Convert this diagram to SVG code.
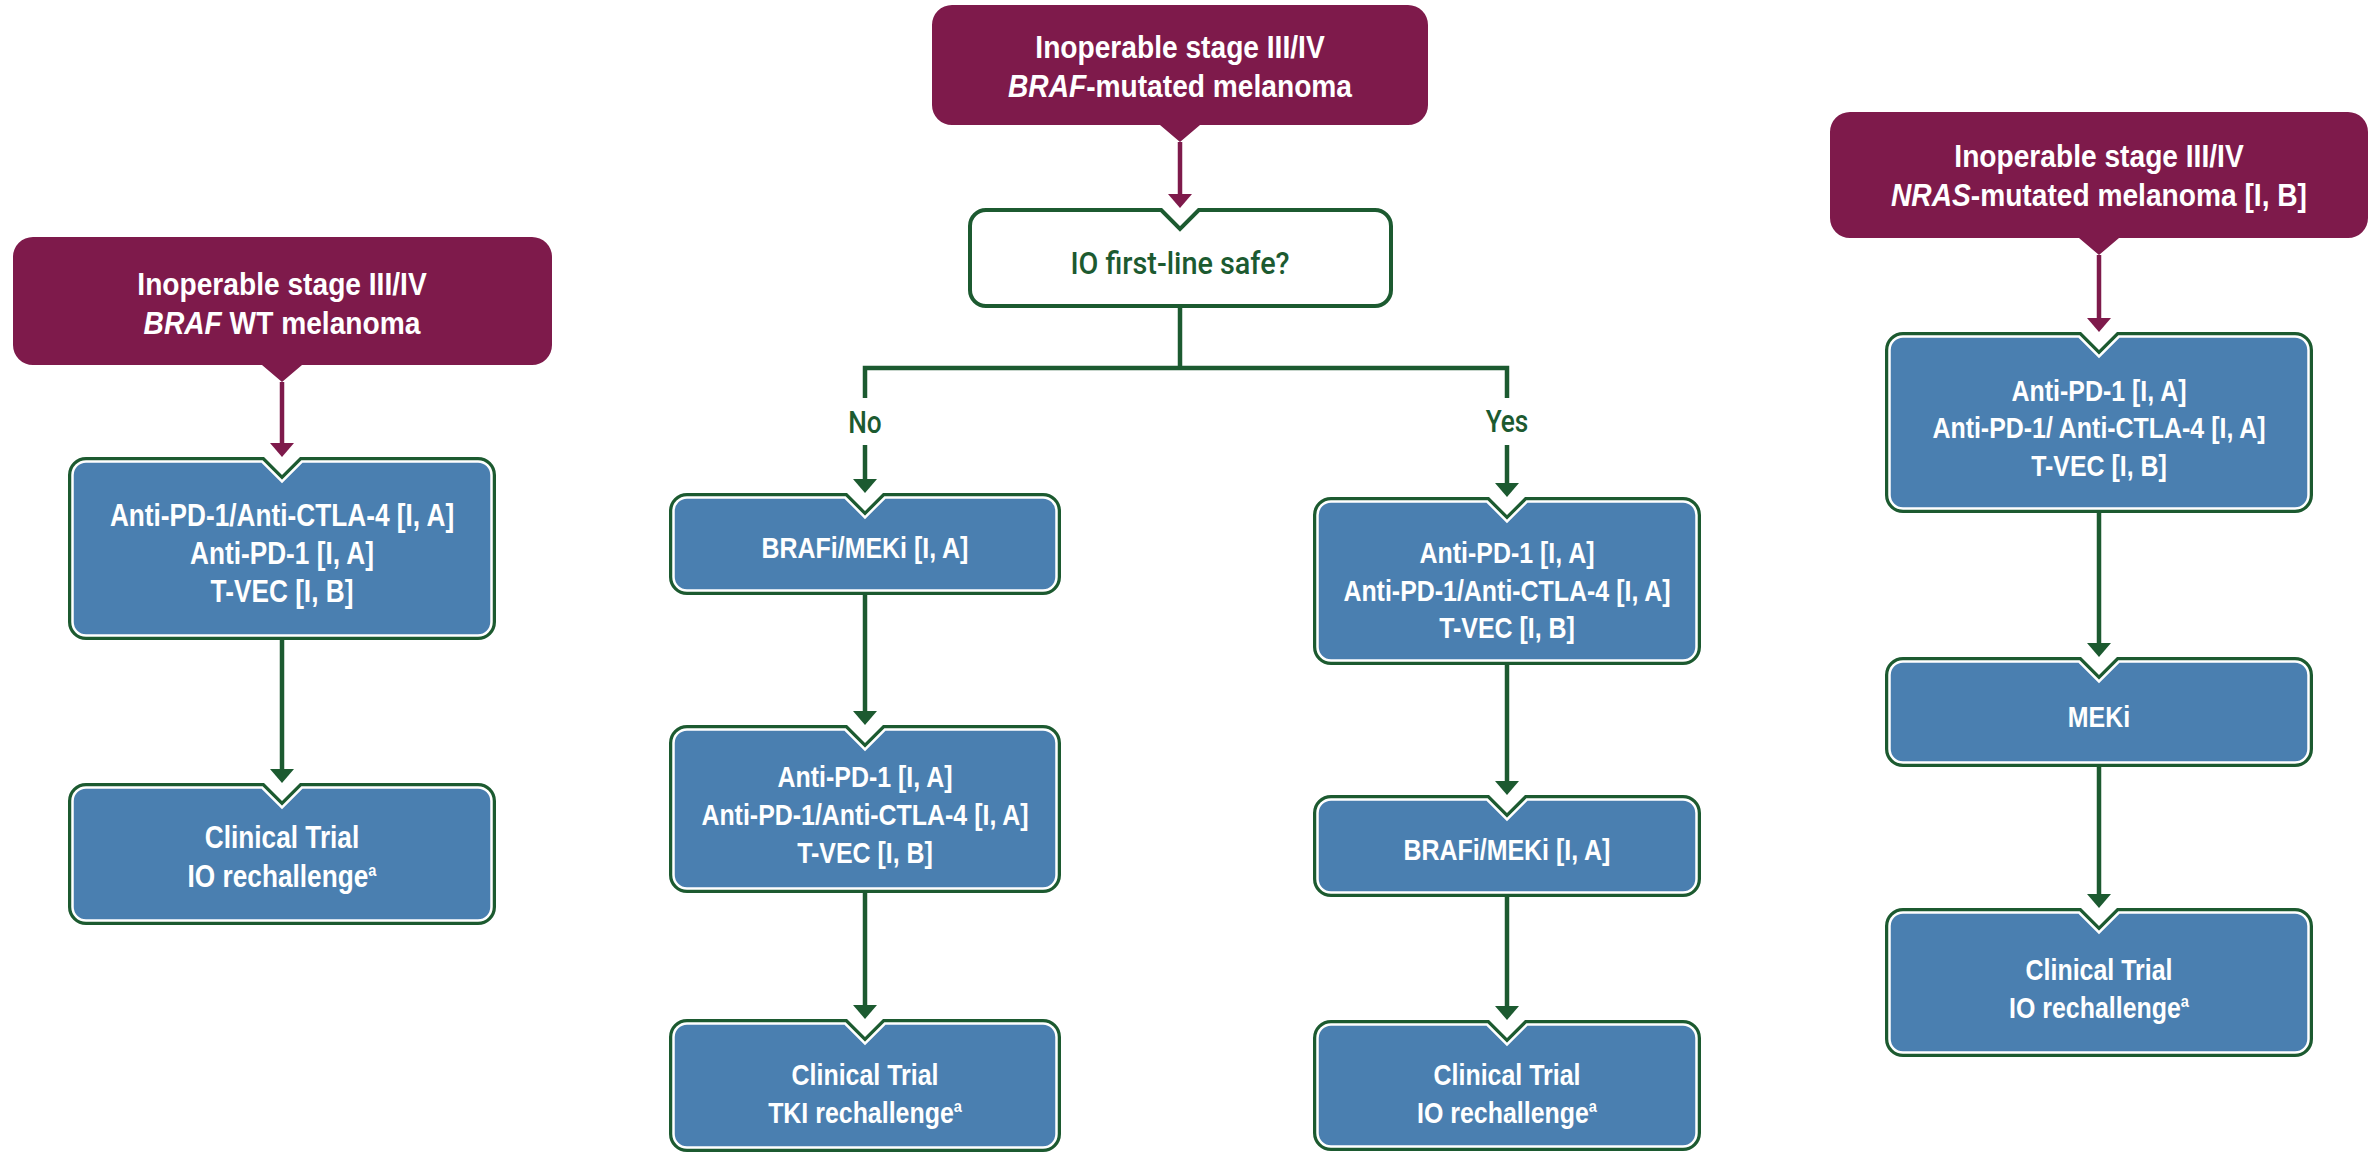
<svg xmlns="http://www.w3.org/2000/svg" width="2369" height="1156" viewBox="0 0 2369 1156">
<defs>
<style>
.bo{fill:#1c5a30}
.bi{fill:#4a7fb0;stroke:#ffffff;stroke-width:2.5}
.mr{fill:#7e1a4b}
.io{fill:#ffffff;stroke:#1c5a30;stroke-width:4}
.t{font-family:"Liberation Sans",Arial,sans-serif;font-weight:700;fill:#ffffff;text-anchor:middle}
.tb{font-size:29px}
.tl{font-size:30.5px}
.tm{font-size:32px}
.g{font-family:Roboto,"Liberation Sans",Arial,sans-serif;font-weight:500;fill:#1c5a30;text-anchor:middle;font-size:32px}
.cg{fill:none;stroke:#1c5a30;stroke-width:4.5}
.cm{fill:none;stroke:#7e1a4b;stroke-width:4.5}
.sup{font-size:17px}
</style>
<marker id="ag" markerUnits="userSpaceOnUse" viewBox="0 0 14 24" markerWidth="14" markerHeight="24" refX="4" refY="12" orient="auto"><path d="M0,0 L14,12 L0,24 Z" fill="#1c5a30"/></marker>
<marker id="am" markerUnits="userSpaceOnUse" viewBox="0 0 14 24" markerWidth="14" markerHeight="24" refX="4" refY="12" orient="auto"><path d="M0,0 L14,12 L0,24 Z" fill="#7e1a4b"/></marker>
</defs>
<rect x="0" y="0" width="2369" height="1156" fill="#ffffff"/>

<g id="connectors">
<path class="cm" d="M282,382 V447" marker-end="url(#am)"/>
<path class="cm" d="M1180,142 V198" marker-end="url(#am)"/>
<path class="cm" d="M2099,255 V322" marker-end="url(#am)"/>
<path class="cg" d="M282,640 V773" marker-end="url(#ag)"/>
<path class="cg" d="M1180,308 V368"/>
<path class="cg" d="M865,398 V368 H1507 V398"/>
<path class="cg" d="M865,445 V483" marker-end="url(#ag)"/>
<path class="cg" d="M1507,445 V487" marker-end="url(#ag)"/>
<path class="cg" d="M865,595 V715" marker-end="url(#ag)"/>
<path class="cg" d="M865,893 V1009" marker-end="url(#ag)"/>
<path class="cg" d="M1507,665 V785" marker-end="url(#ag)"/>
<path class="cg" d="M1507,897 V1010" marker-end="url(#ag)"/>
<path class="cg" d="M2099,513 V647" marker-end="url(#ag)"/>
<path class="cg" d="M2099,767 V898" marker-end="url(#ag)"/>
<text class="g" transform="translate(865 0) scale(0.82 1)" x="0" y="433">No</text>
<text class="g" transform="translate(1507 0) scale(0.82 1)" x="0" y="432">Yes</text>
</g>

<g id="braf-wt-start">
<path class="mr" d="M33,237 H532 A20,20 0 0 1 552,257 V345 A20,20 0 0 1 532,365 H302 L282,382 L262,365 H33 A20,20 0 0 1 13,345 V257 A20,20 0 0 1 33,237 Z"/>
<text class="t tm" transform="translate(282 0) scale(0.88 1)"><tspan x="0" y="295">Inoperable stage III/IV</tspan><tspan x="0" y="334"><tspan font-style="italic">BRAF</tspan> WT melanoma</tspan></text>
</g>

<g id="braf-wt-first">
<path class="bo" d="M86,457 H264 L282,475 L300,457 H478 A18,18 0 0 1 496,475 V622 A18,18 0 0 1 478,640 H86 A18,18 0 0 1 68,622 V475 A18,18 0 0 1 86,457 Z"/>
<path class="bi" d="M86,461.5 H262.1 L282,481.4 L301.9,461.5 H478 A13.5,13.5 0 0 1 491.5,475 V622 A13.5,13.5 0 0 1 478,635.5 H86 A13.5,13.5 0 0 1 72.5,622 V475 A13.5,13.5 0 0 1 86,461.5 Z"/>
<text class="t tl" transform="translate(282 0) scale(0.86 1)"><tspan x="0" y="526">Anti-PD-1/Anti-CTLA-4 [I, A]</tspan><tspan x="0" y="564">Anti-PD-1 [I, A]</tspan><tspan x="0" y="602">T-VEC [I, B]</tspan></text>
</g>

<g id="braf-wt-second">
<path class="bo" d="M86,783 H264 L282,801 L300,783 H478 A18,18 0 0 1 496,801 V907 A18,18 0 0 1 478,925 H86 A18,18 0 0 1 68,907 V801 A18,18 0 0 1 86,783 Z"/>
<path class="bi" d="M86,787.5 H262.1 L282,807.4 L301.9,787.5 H478 A13.5,13.5 0 0 1 491.5,801 V907 A13.5,13.5 0 0 1 478,920.5 H86 A13.5,13.5 0 0 1 72.5,907 V801 A13.5,13.5 0 0 1 86,787.5 Z"/>
<text class="t tl" transform="translate(282 0) scale(0.86 1)"><tspan x="0" y="848">Clinical Trial</tspan><tspan x="0" y="887">IO rechallenge</tspan><tspan class="sup" dy="-11">a</tspan></text>
</g>

<g id="braf-mut-start">
<path class="mr" d="M952,5 H1408 A20,20 0 0 1 1428,25 V105 A20,20 0 0 1 1408,125 H1200 L1180,142 L1160,125 H952 A20,20 0 0 1 932,105 V25 A20,20 0 0 1 952,5 Z"/>
<text class="t tm" transform="translate(1180 0) scale(0.88 1)"><tspan x="0" y="58">Inoperable stage III/IV</tspan><tspan x="0" y="97"><tspan font-style="italic">BRAF</tspan>-mutated melanoma</tspan></text>
</g>

<g id="io-question">
<path class="io" d="M986,210 H1161.2 L1180,228.8 L1198.8,210 H1375 A16,16 0 0 1 1391,226 V290 A16,16 0 0 1 1375,306 H986 A16,16 0 0 1 970,290 V226 A16,16 0 0 1 986,210 Z"/>
<text class="g" transform="translate(1180 0) scale(0.9 1)" x="0" y="274">IO first-line safe?</text>
</g>

<g id="no-first">
<path class="bo" d="M687,493 H847 L865,511 L883,493 H1043 A18,18 0 0 1 1061,511 V577 A18,18 0 0 1 1043,595 H687 A18,18 0 0 1 669,577 V511 A18,18 0 0 1 687,493 Z"/>
<path class="bi" d="M687,497.5 H845.1 L865,517.4 L884.9,497.5 H1043 A13.5,13.5 0 0 1 1056.5,511 V577 A13.5,13.5 0 0 1 1043,590.5 H687 A13.5,13.5 0 0 1 673.5,577 V511 A13.5,13.5 0 0 1 687,497.5 Z"/>
<text class="t tb" transform="translate(865 0) scale(0.86 1)" x="0" y="558">BRAFi/MEKi [I, A]</text>
</g>

<g id="no-second">
<path class="bo" d="M687,725 H847 L865,743 L883,725 H1043 A18,18 0 0 1 1061,743 V875 A18,18 0 0 1 1043,893 H687 A18,18 0 0 1 669,875 V743 A18,18 0 0 1 687,725 Z"/>
<path class="bi" d="M687,729.5 H845.1 L865,749.4 L884.9,729.5 H1043 A13.5,13.5 0 0 1 1056.5,743 V875 A13.5,13.5 0 0 1 1043,888.5 H687 A13.5,13.5 0 0 1 673.5,875 V743 A13.5,13.5 0 0 1 687,729.5 Z"/>
<text class="t tb" transform="translate(865 0) scale(0.86 1)"><tspan x="0" y="787">Anti-PD-1 [I, A]</tspan><tspan x="0" y="825">Anti-PD-1/Anti-CTLA-4 [I, A]</tspan><tspan x="0" y="863">T-VEC [I, B]</tspan></text>
</g>

<g id="no-third">
<path class="bo" d="M687,1019 H847 L865,1037 L883,1019 H1043 A18,18 0 0 1 1061,1037 V1134 A18,18 0 0 1 1043,1152 H687 A18,18 0 0 1 669,1134 V1037 A18,18 0 0 1 687,1019 Z"/>
<path class="bi" d="M687,1023.5 H845.1 L865,1043.4 L884.9,1023.5 H1043 A13.5,13.5 0 0 1 1056.5,1037 V1134 A13.5,13.5 0 0 1 1043,1147.5 H687 A13.5,13.5 0 0 1 673.5,1134 V1037 A13.5,13.5 0 0 1 687,1023.5 Z"/>
<text class="t tb" transform="translate(865 0) scale(0.86 1)"><tspan x="0" y="1085">Clinical Trial</tspan><tspan x="0" y="1123">TKI rechallenge</tspan><tspan class="sup" dy="-11">a</tspan></text>
</g>

<g id="yes-first">
<path class="bo" d="M1331,497 H1489 L1507,515 L1525,497 H1683 A18,18 0 0 1 1701,515 V647 A18,18 0 0 1 1683,665 H1331 A18,18 0 0 1 1313,647 V515 A18,18 0 0 1 1331,497 Z"/>
<path class="bi" d="M1331,501.5 H1487.1 L1507,521.4 L1526.9,501.5 H1683 A13.5,13.5 0 0 1 1696.5,515 V647 A13.5,13.5 0 0 1 1683,660.5 H1331 A13.5,13.5 0 0 1 1317.5,647 V515 A13.5,13.5 0 0 1 1331,501.5 Z"/>
<text class="t tb" transform="translate(1507 0) scale(0.86 1)"><tspan x="0" y="563">Anti-PD-1 [I, A]</tspan><tspan x="0" y="601">Anti-PD-1/Anti-CTLA-4 [I, A]</tspan><tspan x="0" y="638">T-VEC [I, B]</tspan></text>
</g>

<g id="yes-second">
<path class="bo" d="M1331,795 H1489 L1507,813 L1525,795 H1683 A18,18 0 0 1 1701,813 V879 A18,18 0 0 1 1683,897 H1331 A18,18 0 0 1 1313,879 V813 A18,18 0 0 1 1331,795 Z"/>
<path class="bi" d="M1331,799.5 H1487.1 L1507,819.4 L1526.9,799.5 H1683 A13.5,13.5 0 0 1 1696.5,813 V879 A13.5,13.5 0 0 1 1683,892.5 H1331 A13.5,13.5 0 0 1 1317.5,879 V813 A13.5,13.5 0 0 1 1331,799.5 Z"/>
<text class="t tb" transform="translate(1507 0) scale(0.86 1)" x="0" y="860">BRAFi/MEKi [I, A]</text>
</g>

<g id="yes-third">
<path class="bo" d="M1331,1020 H1489 L1507,1038 L1525,1020 H1683 A18,18 0 0 1 1701,1038 V1133 A18,18 0 0 1 1683,1151 H1331 A18,18 0 0 1 1313,1133 V1038 A18,18 0 0 1 1331,1020 Z"/>
<path class="bi" d="M1331,1024.5 H1487.1 L1507,1044.4 L1526.9,1024.5 H1683 A13.5,13.5 0 0 1 1696.5,1038 V1133 A13.5,13.5 0 0 1 1683,1146.5 H1331 A13.5,13.5 0 0 1 1317.5,1133 V1038 A13.5,13.5 0 0 1 1331,1024.5 Z"/>
<text class="t tb" transform="translate(1507 0) scale(0.86 1)"><tspan x="0" y="1085">Clinical Trial</tspan><tspan x="0" y="1123">IO rechallenge</tspan><tspan class="sup" dy="-11">a</tspan></text>
</g>

<g id="nras-start">
<path class="mr" d="M1850,112 H2348 A20,20 0 0 1 2368,132 V218 A20,20 0 0 1 2348,238 H2119 L2099,255 L2079,238 H1850 A20,20 0 0 1 1830,218 V132 A20,20 0 0 1 1850,112 Z"/>
<text class="t tm" transform="translate(2099 0) scale(0.88 1)"><tspan x="0" y="167">Inoperable stage III/IV</tspan><tspan x="0" y="206"><tspan font-style="italic">NRAS</tspan>-mutated melanoma [I, B]</tspan></text>
</g>

<g id="nras-first">
<path class="bo" d="M1903,332 H2081 L2099,350 L2117,332 H2295 A18,18 0 0 1 2313,350 V495 A18,18 0 0 1 2295,513 H1903 A18,18 0 0 1 1885,495 V350 A18,18 0 0 1 1903,332 Z"/>
<path class="bi" d="M1903,336.5 H2079.1 L2099,356.4 L2118.9,336.5 H2295 A13.5,13.5 0 0 1 2308.5,350 V495 A13.5,13.5 0 0 1 2295,508.5 H1903 A13.5,13.5 0 0 1 1889.5,495 V350 A13.5,13.5 0 0 1 1903,336.5 Z"/>
<text class="t tb" transform="translate(2099 0) scale(0.86 1)"><tspan x="0" y="401">Anti-PD-1 [I, A]</tspan><tspan x="0" y="438.5">Anti-PD-1/ Anti-CTLA-4 [I, A]</tspan><tspan x="0" y="476">T-VEC [I, B]</tspan></text>
</g>

<g id="nras-second">
<path class="bo" d="M1903,657 H2081 L2099,675 L2117,657 H2295 A18,18 0 0 1 2313,675 V749 A18,18 0 0 1 2295,767 H1903 A18,18 0 0 1 1885,749 V675 A18,18 0 0 1 1903,657 Z"/>
<path class="bi" d="M1903,661.5 H2079.1 L2099,681.4 L2118.9,661.5 H2295 A13.5,13.5 0 0 1 2308.5,675 V749 A13.5,13.5 0 0 1 2295,762.5 H1903 A13.5,13.5 0 0 1 1889.5,749 V675 A13.5,13.5 0 0 1 1903,661.5 Z"/>
<text class="t tb" transform="translate(2099 0) scale(0.86 1)" x="0" y="727">MEKi</text>
</g>

<g id="nras-third">
<path class="bo" d="M1903,908 H2081 L2099,926 L2117,908 H2295 A18,18 0 0 1 2313,926 V1039 A18,18 0 0 1 2295,1057 H1903 A18,18 0 0 1 1885,1039 V926 A18,18 0 0 1 1903,908 Z"/>
<path class="bi" d="M1903,912.5 H2079.1 L2099,932.4 L2118.9,912.5 H2295 A13.5,13.5 0 0 1 2308.5,926 V1039 A13.5,13.5 0 0 1 2295,1052.5 H1903 A13.5,13.5 0 0 1 1889.5,1039 V926 A13.5,13.5 0 0 1 1903,912.5 Z"/>
<text class="t tb" transform="translate(2099 0) scale(0.86 1)"><tspan x="0" y="980">Clinical Trial</tspan><tspan x="0" y="1018">IO rechallenge</tspan><tspan class="sup" dy="-11">a</tspan></text>
</g>
</svg>
